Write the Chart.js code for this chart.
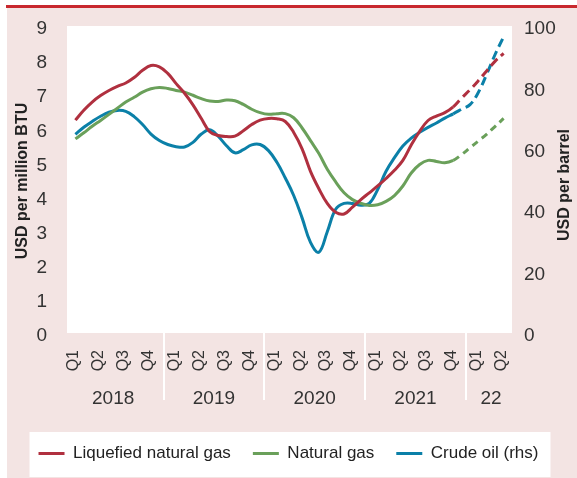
<!DOCTYPE html>
<html>
<head>
<meta charset="utf-8">
<script src="https://cdn.jsdelivr.net/npm/chart.js@4.4.1/dist/chart.umd.min.js"></script>
<style>
  html, body { margin: 0; padding: 0; background: #fff; }
  #wrap { width: 577px; height: 478px; }
</style>
</head>
<body>
<div id="wrap"><canvas id="chart"></canvas></div>
<script>
// quarters Q1 2018 .. Q2 2022, monthly readings (Feb 2018 .. May 2022)
const years = ["2018", "2019", "2020", "2021", "22"];
const yearMonths = [12, 12, 12, 12, 6];
const quarterLabels = ["Q1", "Q2", "Q3", "Q4"];

// USD per million BTU
const lng = [6.24, 6.53, 6.77, 6.96, 7.11, 7.23, 7.33, 7.49, 7.70, 7.84, 7.80, 7.61,
  7.31, 7.03, 6.69, 6.29, 5.90, 5.79, 5.76, 5.77, 5.93, 6.11, 6.24, 6.29,
  6.28, 6.20, 5.88, 5.40, 4.74, 4.23, 3.80, 3.54, 3.49, 3.69, 3.91, 4.11,
  4.31, 4.53, 4.77, 5.06, 5.51, 5.91, 6.23, 6.36, 6.46, 6.63, 6.89, 7.13,
  7.40, 7.69, 7.97, 8.20];
const natGas = [5.69, 5.87, 6.06, 6.23, 6.41, 6.59, 6.77, 6.91, 7.06, 7.16, 7.20, 7.17,
  7.11, 7.06, 6.97, 6.87, 6.80, 6.79, 6.83, 6.81, 6.70, 6.56, 6.46, 6.41,
  6.43, 6.43, 6.31, 6.01, 5.64, 5.26, 4.80, 4.43, 4.11, 3.91, 3.80, 3.74,
  3.76, 3.86, 4.03, 4.31, 4.69, 4.94, 5.06, 5.03, 4.99, 5.06, 5.23, 5.43,
  5.63, 5.83, 6.06, 6.29];
// USD per barrel (rhs)
const crude = [64.7, 67.0, 68.9, 70.6, 71.9, 72.5, 72.2, 70.5, 67.9, 64.8, 62.7, 61.4,
  60.7, 60.6, 62.1, 64.8, 66.2, 64.1, 61.0, 58.7, 59.7, 61.3, 61.4, 59.4,
  55.6, 50.5, 44.8, 37.5, 29.5, 26.3, 33.0, 40.3, 42.2, 42.2, 41.6, 42.2,
  46.7, 52.7, 57.1, 60.9, 63.5, 65.4, 67.0, 68.4, 70.0, 71.4, 72.9, 74.4,
  78.4, 84.4, 90.8, 96.5];
const forecastFrom = 46; // Nov 2021 onwards drawn dashed

// month categories, values sit mid-quarter (first and last month empty)
const months = [];
years.forEach((y, i) => {
  for (let m = 1; m <= yearMonths[i]; m++) months.push(y + "-" + m);
});
const pad = arr => [null].concat(arr, [null]);

const FONT = "'Liberation Sans', Arial, sans-serif";
const TEXT = "#333";

const dashed = pattern => ctx => ctx.p0DataIndex >= forecastFrom ? pattern : undefined;

const frame = {
  id: "frame",
  beforeDraw(chart) {
    const { ctx, chartArea: a, width, height } = chart;
    ctx.save();
    ctx.fillStyle = "#fff";
    ctx.fillRect(0, 0, width, height);
    ctx.fillStyle = "#f3e4e3";
    ctx.fillRect(7, 7, width - 7, height - 7);
    ctx.fillStyle = "#c8282e";
    ctx.fillRect(6, 5, width - 6, 3);
    ctx.fillStyle = "#fff";
    ctx.fillRect(a.left, a.top, a.right - a.left, a.bottom - a.top);
    // legend box
    const boxes = chart.legend.legendHitBoxes;
    if (boxes && boxes.length) {
      const first = boxes[0], last = boxes[boxes.length - 1];
      ctx.fillRect(first.left - 9, first.top - 13,
        last.left + last.width - first.left + 21, first.height + 28);
    }
    ctx.restore();
  },
  afterDraw(chart) {
    const { ctx, chartArea: a, scales } = chart;
    const x = scales.x;
    const step = x.getPixelForValue(1) - x.getPixelForValue(0);
    ctx.save();
    // year groups and dividers
    let start = 0;
    ctx.font = "19px " + FONT;
    ctx.fillStyle = TEXT;
    ctx.textAlign = "center";
    ctx.textBaseline = "middle";
    years.forEach((y, i) => {
      const l = x.getPixelForValue(start) - step / 2;
      const r = x.getPixelForValue(start + yearMonths[i] - 1) + step / 2;
      ctx.fillText(y, (l + r) / 2, 399);
      if (i > 0) {
        ctx.fillStyle = "#fff";
        ctx.fillRect(Math.round(l) - 1, a.bottom, 2, 67);
        ctx.fillStyle = TEXT;
      }
      start += yearMonths[i];
    });
    // axis titles, both reading bottom to top
    ctx.font = "bold 16px " + FONT;
    ctx.fillStyle = "#222";
    [["USD per million BTU", 23, 181], ["USD per barrel", 565, 185]].forEach(([t, tx, ty]) => {
      ctx.save();
      ctx.translate(tx, ty);
      ctx.rotate(-Math.PI / 2);
      ctx.fillText(t, 0, 0);
      ctx.restore();
    });
    ctx.restore();
  }
};

new Chart(document.getElementById("chart"), {
  type: "line",
  data: {
    labels: months,
    datasets: [
      {
        label: "Liquefied natural gas",
        data: pad(lng),
        borderColor: "#b0303f",
        backgroundColor: "#b0303f",
        yAxisID: "y",
        segment: { borderDash: dashed([9, 5]) }
      },
      {
        label: "Natural gas",
        data: pad(natGas),
        borderColor: "#6aa05a",
        backgroundColor: "#6aa05a",
        yAxisID: "y",
        segment: { borderDash: dashed([7, 5]) }
      },
      {
        label: "Crude oil (rhs)",
        data: pad(crude),
        borderColor: "#0b80a8",
        backgroundColor: "#0b80a8",
        yAxisID: "y1",
        segment: { borderDash: dashed([9, 5]) }
      }
    ]
  },
  options: {
    responsive: true,
    maintainAspectRatio: false,
    animation: false,
    layout: { padding: { top: 26, left: 0, right: 0, bottom: 6 } },
    elements: {
      line: { borderWidth: 3, tension: 0.4, borderCapStyle: "butt" },
      point: { radius: 0 }
    },
    plugins: {
      tooltip: { enabled: false },
      legend: {
        position: "bottom",
        labels: {
          font: { family: FONT, size: 17 },
          color: "#222",
          boxWidth: 26,
          boxHeight: 3,
          padding: 22,
          generateLabels(chart) {
            return chart.data.datasets.map((d, i) => ({
              text: d.label,
              fillStyle: d.borderColor,
              strokeStyle: d.borderColor,
              lineWidth: 0,
              hidden: false,
              datasetIndex: i,
              fontColor: "#222"
            }));
          }
        }
      }
    },
    scales: {
      x: {
        grid: { display: false },
        border: { display: false },
        afterFit(s) { s.height = 90; },
        ticks: {
          autoSkip: false,
          minRotation: 90,
          maxRotation: 90,
          padding: 9,
          labelOffset: -2,
          color: TEXT,
          font: { family: FONT, size: 16 },
          callback(v, i) { return i % 3 === 1 ? quarterLabels[Math.floor(i / 3) % 4] : ""; }
        }
      },
      y: {
        position: "left",
        min: 0, max: 9,
        grid: { display: false },
        border: { display: false },
        afterFit(s) { s.width = 67; },
        ticks: { stepSize: 1, padding: 12, labelOffset: 3, color: TEXT, font: { family: FONT, size: 19 } }
      },
      y1: {
        position: "right",
        min: 0, max: 100,
        grid: { display: false },
        border: { display: false },
        afterFit(s) { s.width = 65; },
        ticks: { stepSize: 20, padding: 4, labelOffset: 3, color: TEXT, font: { family: FONT, size: 19 } }
      }
    }
  },
  plugins: [frame]
});
</script>
</body>
</html>
